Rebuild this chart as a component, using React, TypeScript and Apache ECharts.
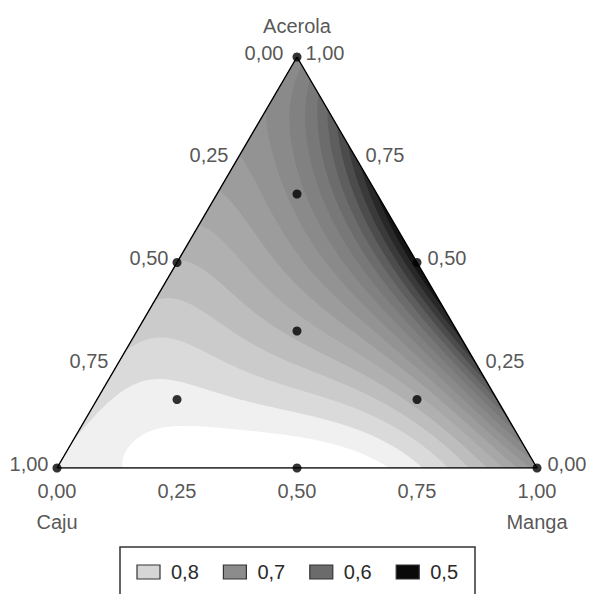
import React, { useEffect, useRef } from "react";
import * as echarts from "echarts";

// ---- Mixture design (proportions of Caju, Manga, Acerola) ----
const designCaju = [1, 0, 0, 0.5, 0.5, 0, 0.3333, 0.6667, 0.1667, 0.1667];
const designManga = [0, 1, 0, 0.5, 0, 0.5, 0.3333, 0.1667, 0.6667, 0.1667];
const designAcerola = [0, 0, 1, 0, 0.5, 0.5, 0.3333, 0.1667, 0.1667, 0.6667];

// ---- Response readings taken from the contour picture ----
// Caju–Manga side (Acerola = 0): Manga proportion -> response
const baseManga = [0, 0.1375, 0.5, 0.6729, 0.7771, 0.9, 1];
const baseValue = [0.845, 0.86, 0.885, 0.86, 0.84, 0.775, 0.71];
// Caju–Acerola side (Manga = 0): Acerola proportion -> response
const leftAcerola = [0, 0.05, 0.1, 0.2, 0.316, 0.5, 0.75, 0.9, 1];
const leftValue = [0.845, 0.841, 0.836, 0.828, 0.82, 0.78, 0.72, 0.7, 0.69];
// Manga–Acerola side (Caju = 0): Acerola proportion -> response
const rightAcerola = [0, 0.05, 0.08, 0.163, 0.25, 0.38, 0.5, 0.71, 0.8, 0.85, 0.9, 0.95, 1];
const rightValue = [0.71, 0.685, 0.665, 0.62, 0.58, 0.54, 0.525, 0.545, 0.585, 0.61, 0.635, 0.665, 0.69];
// inside the triangle: (Manga, Acerola) -> response
const innerManga = [
  0.3333, 0.1667, 0.6667, 0.1667,
  0.1977, 0.2555, 0.3437, 0.4807,
  0.1075, 0.169, 0.2423, 0.4308, 0.5295,
  0.1979, 0.2458, 0.2917, 0.3333, 0.3708, 0.3979, 0.4292, 0.4542, 0.4708, 0.4896,
  0.1938, 0.2208, 0.2417, 0.2625, 0.2833, 0.3042, 0.3188,
  0.1313, 0.0688, 0.201, 0.3304,
  0.1, 0.05, 0.1, 0.15,
  0.3, 0.4, 0.2, 0.05, 0.05, 0.12,
  0.1, 0.15, 0.2, 0.3, 0.35, 0.45,
];
const innerAcerola = [
  0.3333, 0.1667, 0.1667, 0.6667,
  0.0754, 0.0973, 0.0876, 0.0511,
  0.2141, 0.2287, 0.2238, 0.1509, 0.1119,
  0.5, 0.5, 0.5, 0.5, 0.5, 0.5, 0.5, 0.5, 0.5, 0.5,
  0.6667, 0.6667, 0.6667, 0.6667, 0.6667, 0.6667, 0.6667,
  0.6667, 0.6667, 0.3187, 0.2141,
  0.5, 0.8, 0.8, 0.8,
  0.04, 0.03, 0.14, 0.15, 0.05, 0.04,
  0.06, 0.08, 0.11, 0.12, 0.12, 0.08,
];
const innerValue = [
  0.772, 0.845, 0.765, 0.69,
  0.86, 0.86, 0.86, 0.86,
  0.84, 0.84, 0.84, 0.84, 0.84,
  0.74, 0.72, 0.7, 0.68, 0.66, 0.64, 0.62, 0.6, 0.58, 0.56,
  0.68, 0.66, 0.64, 0.62, 0.6, 0.58, 0.56,
  0.7, 0.72, 0.82, 0.82,
  0.765, 0.71, 0.68, 0.65,
  0.875, 0.878, 0.85, 0.843, 0.85, 0.855,
  0.852, 0.855, 0.853, 0.853, 0.852, 0.855,
];

// ---- Contour levels and fills ----
const belowColor = "#151515";
const contourLevels = [0.54, 0.56, 0.58, 0.6, 0.62, 0.64, 0.66, 0.68, 0.7, 0.72, 0.74, 0.76, 0.78, 0.8, 0.82, 0.84, 0.86];
const contourColors = ["#282828", "#3a3a3a", "#4c4c4c", "#5e5e5e", "#6c6c6c", "#787878", "#818181", "#8a8a8a", "#939393", "#9c9c9c", "#a7a7a7", "#b0b0b0", "#bdbdbd", "#cbcbcb", "#dadada", "#f0f0f0", "#ffffff"];

// ---- Ticks ----
const tickValues = [0, 0.25, 0.5, 0.75, 1];
const tickLabels = ["0,00", "0,25", "0,50", "0,75", "1,00"];

// ---- Legend ----
const legendLabels = ["0,8", "0,7", "0,6", "0,5"];
const legendColors = ["#d6d6d6", "#8c8c8c", "#6b6b6b", "#0a0a0a"];

const FONT = "Liberation Sans";
const TEXT_COLOR = "#2a2a2a";

// Scheffé-type terms (c = Caju, m = Manga, a = Acerola)
function edgeBasis(c: number, m: number, a: number): number[] {
  return [
    c, m, a,
    c * m, c * a, m * a,
    c * m * (c - m), c * a * (c - a), m * a * (m - a),
    c * m * (c - m) * (c - m), c * a * (c - a) * (c - a), m * a * (m - a) * (m - a),
  ];
}
function innerBasis(c: number, m: number, a: number): number[] {
  const t = 243 * c * m * a;
  return [t * c * c, t * m * m, t * a * a, t * c * m, t * c * a, t * m * a];
}

function lsq(rows: number[][], y: number[], ridge: number): number[] {
  const K = rows[0].length;
  const A: number[][] = Array.from({ length: K }, () => new Array(K).fill(0));
  const b: number[] = new Array(K).fill(0);
  rows.forEach((f, n) => {
    for (let i = 0; i < K; i++) {
      b[i] += f[i] * y[n];
      for (let j = 0; j < K; j++) A[i][j] += f[i] * f[j];
    }
  });
  for (let i = 0; i < K; i++) A[i][i] += ridge;
  for (let col = 0; col < K; col++) {
    let piv = col;
    for (let r = col + 1; r < K; r++) if (Math.abs(A[r][col]) > Math.abs(A[piv][col])) piv = r;
    [A[col], A[piv]] = [A[piv], A[col]];
    [b[col], b[piv]] = [b[piv], b[col]];
    for (let r = col + 1; r < K; r++) {
      const fct = A[r][col] / A[col][col];
      for (let k = col; k < K; k++) A[r][k] -= fct * A[col][k];
      b[r] -= fct * b[col];
    }
  }
  const x = new Array(K).fill(0);
  for (let i = K - 1; i >= 0; i--) {
    let s = b[i];
    for (let k = i + 1; k < K; k++) s -= A[i][k] * x[k];
    x[i] = s / A[i][i];
  }
  return x;
}

function fitModel() {
  const rows: number[][] = [];
  const ys: number[] = [];
  baseManga.forEach((m, i) => { rows.push(edgeBasis(1 - m, m, 0)); ys.push(baseValue[i]); });
  leftAcerola.forEach((a, i) => { rows.push(edgeBasis(1 - a, 0, a)); ys.push(leftValue[i]); });
  rightAcerola.forEach((a, i) => { rows.push(edgeBasis(0, 1 - a, a)); ys.push(rightValue[i]); });
  const e = lsq(rows, ys, 1e-7);
  const edgeVal = (c: number, m: number, a: number) => edgeBasis(c, m, a).reduce((s, f, i) => s + f * e[i], 0);
  const rows2: number[][] = [];
  const ys2: number[] = [];
  innerManga.forEach((m, i) => {
    const a = innerAcerola[i], c = 1 - m - a;
    rows2.push(innerBasis(c, m, a));
    ys2.push(innerValue[i] - edgeVal(c, m, a));
  });
  const q = lsq(rows2, ys2, 1e-4);
  return (c: number, m: number, a: number) =>
    edgeVal(c, m, a) + innerBasis(c, m, a).reduce((s, f, i) => s + f * q[i], 0);
}

const toXY = (m: number, a: number): [number, number] => [m + a / 2, a];

const N = 110;

export default function App() {
  const ref = useRef<HTMLDivElement>(null);

  useEffect(() => {
    if (!ref.current) return;
    const chart = echarts.init(ref.current, null, { renderer: "svg" });

    const model = fitModel();

    const vals: number[][] = [];
    for (let i = 0; i <= N; i++) {
      const col: number[] = [];
      for (let j = 0; j <= N - i; j++) {
        const m = i / N, a = j / N, c = Math.max(0, 1 - m - a);
        col.push(model(c, m, a));
      }
      vals.push(col);
    }

    let pix: number[][][] | null = null;
    const fmt = (p: number[]) => p[0].toFixed(2) + " " + p[1].toFixed(2);

    const buildPath = (L: number): string => {
      const P = pix as number[][][];
      const parts: string[] = [];
      const addPoly = (pts: number[][]) => {
        parts.push("M" + pts.map(fmt).join("L") + "Z");
      };
      for (let j = 0; j < N; j++) {
        const len = 2 * (N - 1 - j) + 1;
        let runStart = -1;
        const flush = (s1: number) => {
          if (runStart < 0) return;
          const s0 = runStart;
          const bl = s0 % 2 === 0 ? s0 / 2 : (s0 - 1) / 2 + 1;
          const tl = s0 % 2 === 0 ? s0 / 2 : (s0 - 1) / 2;
          const br = s1 % 2 === 0 ? s1 / 2 + 1 : (s1 - 1) / 2 + 1;
          const tr = s1 % 2 === 0 ? s1 / 2 : (s1 - 1) / 2 + 1;
          addPoly([P[bl][j], P[br][j], P[tr][j + 1], P[tl][j + 1]]);
          runStart = -1;
        };
        for (let s = 0; s < len; s++) {
          let tri: number[][];
          if (s % 2 === 0) {
            const i = s / 2;
            tri = [[i, j], [i + 1, j], [i, j + 1]];
          } else {
            const i = (s - 1) / 2;
            tri = [[i + 1, j], [i + 1, j + 1], [i, j + 1]];
          }
          const v = tri.map((t) => vals[t[0]][t[1]]);
          let nIn = 0;
          for (const x of v) if (x >= L) nIn++;
          if (nIn === 3) {
            if (runStart < 0) runStart = s;
          } else {
            flush(s - 1);
            if (nIn > 0) {
              const out: number[][] = [];
              for (let e = 0; e < 3; e++) {
                const p = P[tri[e][0]][tri[e][1]];
                const q = P[tri[(e + 1) % 3][0]][tri[(e + 1) % 3][1]];
                const vp = v[e], vq = v[(e + 1) % 3];
                const pin = vp >= L, qin = vq >= L;
                if (pin) out.push(p);
                if (pin !== qin) {
                  const t = (L - vp) / (vq - vp);
                  out.push([p[0] + t * (q[0] - p[0]), p[1] + t * (q[1] - p[1])]);
                }
              }
              if (out.length >= 3) addPoly(out);
            }
          }
        }
        flush(len - 1);
      }
      return parts.join("");
    };

    const renderItem = (params: any, api: any) => {
      if (!pix) {
        const arr: number[][][] = [];
        for (let i = 0; i <= N; i++) {
          const col: number[][] = [];
          for (let j = 0; j <= N - i; j++) col.push(api.coord(toXY(i / N, j / N)));
          arr.push(col);
        }
        pix = arr;
      }
      const k = params.dataIndex;
      let d: string;
      let color: string;
      if (k === 0) {
        const A = api.coord(toXY(0, 0)), B = api.coord(toXY(1, 0)), C = api.coord(toXY(0, 1));
        d = "M" + fmt(A) + "L" + fmt(B) + "L" + fmt(C) + "Z";
        color = belowColor;
      } else {
        d = buildPath(contourLevels[k - 1]);
        color = contourColors[k - 1];
      }
      if (!d) d = "M0 0Z";
      return {
        type: "path",
        z2: k,
        silent: true,
        shape: { pathData: d },
        style: { fill: color, stroke: "none" },
      };
    };

    const labelBase = { show: true, fontFamily: FONT, fontSize: 20, color: TEXT_COLOR };

    const leftData = tickValues.map((c, idx) => ({
      value: toXY(0, 1 - c),
      label: { ...labelBase, formatter: tickLabels[idx], position: "left", distance: c === 0 ? 13 : 8, offset: [0, -4.5] },
    }));
    const rightData = tickValues.map((a, idx) => ({
      value: toXY(1 - a, a),
      label: { ...labelBase, formatter: tickLabels[idx], position: "right", distance: a === 0.5 || a === 0 ? 10 : 8, offset: [0, -4.5] },
    }));
    const bottomData = tickValues.map((m, idx) => ({
      value: toXY(m, 0),
      label: { ...labelBase, formatter: tickLabels[idx], position: "bottom", distance: 12 },
    }));
    const nameData = [
      { value: toXY(0, 0), label: { ...labelBase, formatter: "Caju", position: "bottom", distance: 43 } },
      { value: toXY(1, 0), label: { ...labelBase, formatter: "Manga", position: "bottom", distance: 43 } },
      { value: toXY(0, 1), label: { ...labelBase, formatter: "Acerola", position: "top", distance: 21 } },
    ];

    const designData = designCaju.map((_, i) => toXY(designManga[i], designAcerola[i]));

    const labelSeries = (data: any[]) => ({
      type: "scatter",
      data,
      symbolSize: 1,
      itemStyle: { color: "rgba(0,0,0,0)" },
      silent: true,
      z: 7,
    });

    const legendItems: any[] = [];
    legendLabels.forEach((lab, i) => {
      const x0 = 137 + i * 86.4;
      legendItems.push({
        type: "rect",
        shape: { x: x0, y: 565, width: 23, height: 14 },
        style: { fill: legendColors[i], stroke: "#333", lineWidth: 1.2 },
      });
      legendItems.push({
        type: "text",
        x: x0 + 34,
        y: 572,
        style: { text: lab, fontFamily: FONT, fontSize: 20, fill: TEXT_COLOR, textVerticalAlign: "middle", textAlign: "left" },
      });
    });

    chart.setOption({
      animation: false,
      backgroundColor: "#ffffff",
      grid: { left: 57, top: 57, width: 480, height: 411 },
      xAxis: { type: "value", min: 0, max: 1, show: false },
      yAxis: { type: "value", min: 0, max: 1, show: false },
      graphic: [
        {
          type: "rect",
          shape: { x: 120, y: 547, width: 355, height: 80 },
          style: { fill: "none", stroke: "#333", lineWidth: 1.5 },
        },
        ...legendItems,
      ],
      series: [
        {
          type: "custom",
          coordinateSystem: "cartesian2d",
          renderItem,
          data: [belowColor, ...contourColors].map(() => [0.5, 0.5]),
          silent: true,
          clip: false,
          z: 1,
        },
        {
          type: "line",
          data: [toXY(0, 0), toXY(1, 0), toXY(0, 1), toXY(0, 0)],
          symbol: "none",
          lineStyle: { color: "#000", width: 1.4 },
          silent: true,
          z: 5,
        },
        {
          type: "scatter",
          data: designData,
          symbolSize: 9,
          itemStyle: { color: "#000" },
          silent: true,
          z: 6,
        },
        labelSeries(leftData),
        labelSeries(rightData),
        labelSeries(bottomData),
        labelSeries(nameData),
      ],
    });

    return () => chart.dispose();
  }, []);

  return (
    <div
      ref={ref}
      style={{ position: "absolute", left: 0, top: 0, width: 590, height: 594, background: "#fff" }}
    />
  );
}
